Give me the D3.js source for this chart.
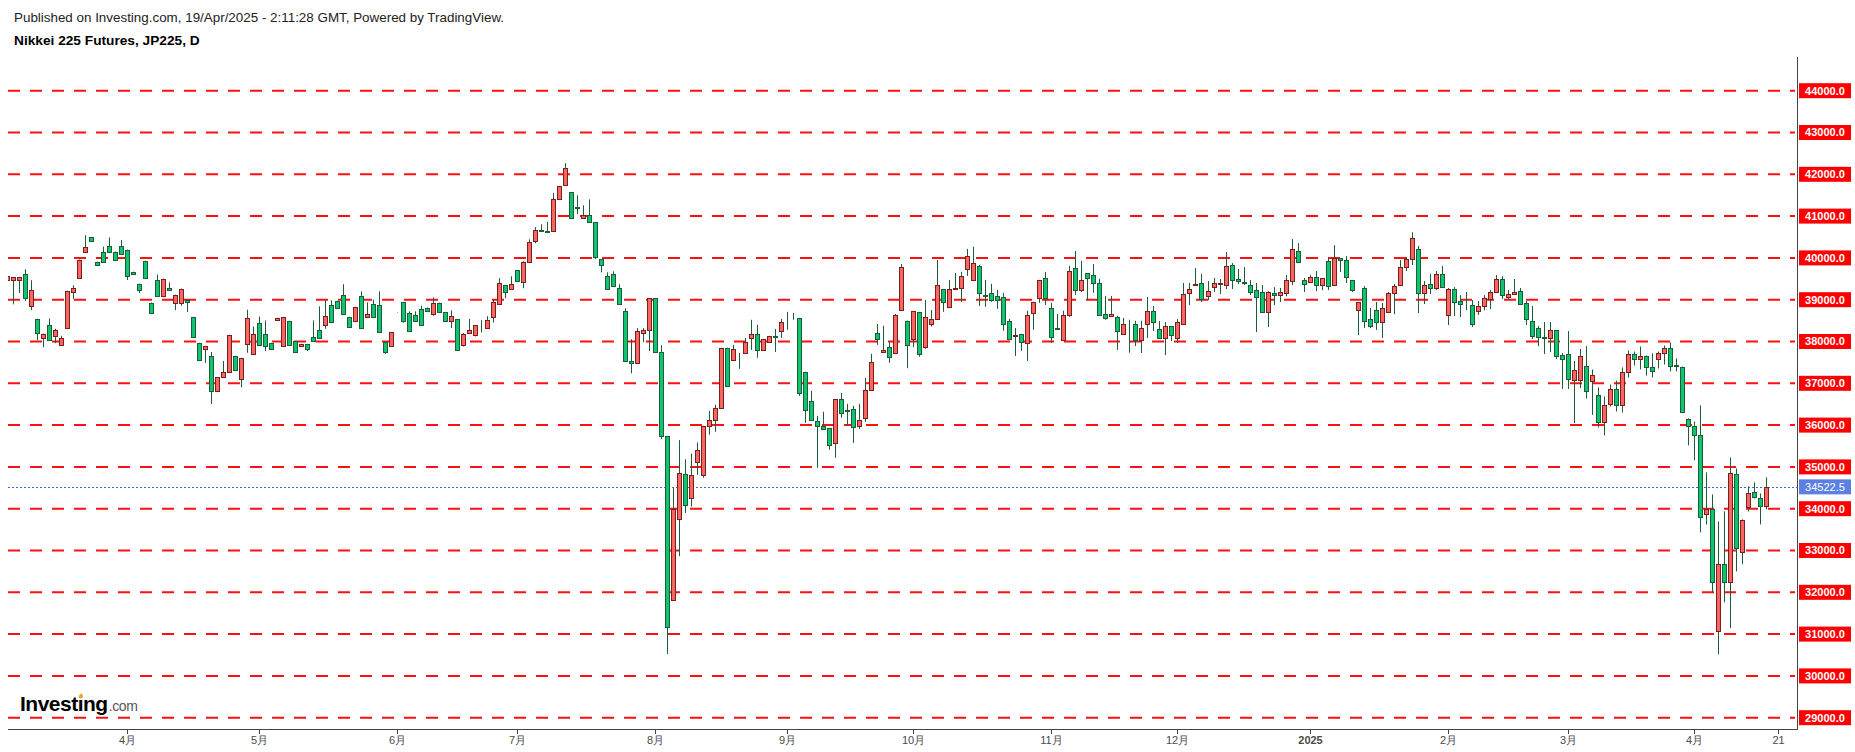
<!DOCTYPE html>
<html>
<head>
<meta charset="utf-8">
<script src="https://cdn.jsdelivr.net/npm/d3@7"></script>
<style>
    html, body { margin: 0; padding: 0; background: #fff; }
    svg { display: block; font-family: "Liberation Sans", Arial, sans-serif; }
</style>
</head>
<body>
<svg id="chart"></svg>
<script>
// Daily bars, one slot per weekday, first slot is 2024-03-04 (clipped at the left edge)
const opens = [
    39480, 39480, 39480, 39625, 38855, 38545, 38090, 38400, 38130, 37920,
    38330, 39190, 39530, 40150, 40490, 39910, 40130, 40295, 40150, 40295,
    40200, 39670, 39385, 39935, 38930, 39480, 39095, 39290, 38930, 38930,
    39000, 38590, 37970, 37825, 37655, 36815, 37150, 37270, 37655, 37105,
    37945, 37705, 38450, 38185, 37970, 38520, 37895, 38495, 38015, 37895,
    37945, 38110, 38280, 38400, 38880, 38975, 39120, 38590, 38495, 39095,
    38590, 38905, 38880, 37990, 37895, 38690, 38950, 38690, 38640, 38785,
    38810, 38665, 38930, 38710, 38495, 38535, 37910, 38200, 38150, 38420,
    38320, 38580, 38890, 39345, 39250, 39705, 39420, 39895, 40400, 40670,
    40645, 40635, 41400, 41735, 41570, 41220, 40950, 41020, 40850, 39970,
    39560, 39610, 39275, 38725, 37530, 37480, 38200, 38270, 39035, 37745,
    35735, 31815, 33750, 34835, 34250, 35120, 34810, 35985, 36125, 36415,
    37850, 37560, 37715, 37730, 38085, 38185, 37800, 37990, 38125, 38255,
    38470, 38555, 38565, 37275, 36580, 36105, 35985, 35935, 35575, 36630,
    36365, 36390, 35985, 36175, 36845, 38205, 37750, 37870, 37730, 38755,
    38495, 38065, 38710, 37870, 38420, 38540, 39260, 38830, 39260, 39285,
    39735, 39475, 39810, 39115, 39165, 39090, 39065, 38495, 38135, 38185,
    37970, 38685, 39045, 39520, 38805, 38320, 38040, 38635, 39760, 39235,
    39640, 39595, 39400, 38660, 38615, 38590, 38185, 38430, 38420, 38035,
    38420, 38730, 38300, 38085, 38370, 38085, 38420, 39160, 39360, 39400,
    39085, 39300, 39380, 39350, 39830, 39495, 39420, 39350, 39230, 39185,
    38705, 39160, 39110, 39160, 39445, 40165, 39470, 39420, 39540, 39350,
    39925, 39350, 40000, 39950, 39470, 38750, 39280, 38535, 38750, 38465,
    38705, 39160, 39350, 39780, 39970, 40210, 39160, 39375, 39280, 39615,
    38635, 39255, 38970, 38900, 38870, 38730, 38850, 39015, 39185, 39495,
    39065, 39135, 39205, 38920, 38490, 38320, 38105, 38085, 38275, 37675,
    37700, 37080, 37080, 37425, 37045, 36710, 36065, 36495, 36875, 36470,
    37260, 37690, 37570, 37665, 37380, 37570, 37715, 37855, 37430, 37400,
    36135, 35990, 35775, 33865, 33985, 31065, 32670, 32240, 34820, 32955,
    34030, 34390, 34245, 34055
];
const highs = [
    39580, 39545, 39545, 39730, 39465, 38545, 38190, 38550, 38305, 38135,
    39215, 39345, 39960, 40545, 40490, 39910, 40270, 40490, 40150, 40425,
    40200, 39670, 39385, 39935, 38930, 39600, 39505, 39415, 39120, 39265,
    39000, 38590, 37970, 37895, 37750, 37150, 37535, 38160, 37655, 37610,
    38760, 38360, 38600, 38505, 37970, 38570, 38590, 38495, 38015, 37945,
    37945, 38505, 38840, 38985, 38985, 38975, 39370, 38590, 38830, 39200,
    38935, 39000, 39200, 37990, 38230, 38695, 38950, 38720, 38720, 38855,
    38810, 39055, 38930, 38710, 38745, 38535, 38200, 38540, 38390, 38510,
    38605, 38995, 39515, 39345, 39560, 39705, 39920, 40445, 40735, 40805,
    40860, 41555, 41715, 42265, 41570, 41500, 41260, 41400, 40850, 39970,
    39655, 39680, 39370, 38795, 38055, 38320, 38320, 39035, 39035, 37910,
    35735, 34490, 35640, 35180, 35320, 35585, 35985, 36340, 36485, 37850,
    37850, 37920, 37730, 38085, 38520, 38400, 38065, 38135, 38300, 38540,
    38710, 38685, 38565, 37275, 36820, 36220, 36320, 35935, 36630, 36770,
    36510, 36460, 36510, 37130, 37705, 38420, 38375, 37990, 38660, 39855,
    38500, 38735, 38710, 38995, 38755, 39950, 39260, 39475, 39640, 39665,
    40215, 40270, 39835, 39475, 39380, 39235, 39165, 38540, 38325, 38185,
    38735, 38950, 39475, 39665, 38925, 38660, 38735, 39810, 40165, 39930,
    39640, 39855, 39500, 39090, 39090, 38615, 38565, 38520, 38495, 38495,
    39065, 38850, 38490, 38465, 38370, 38535, 39400, 39400, 39755, 39615,
    39445, 39520, 39495, 40140, 39875, 39735, 39780, 39470, 39400, 39350,
    39205, 39300, 39280, 39590, 40450, 40355, 39520, 39590, 39685, 39520,
    40000, 40305, 40000, 40045, 39470, 38945, 39325, 38800, 38945, 38920,
    39185, 39375, 39950, 40020, 40615, 40285, 39445, 39615, 39685, 39805,
    39280, 39300, 39110, 39185, 38990, 38970, 39110, 39230, 39590, 39565,
    39230, 39495, 39280, 38970, 38850, 38370, 38465, 38465, 38275, 37725,
    38250, 37535, 37820, 37890, 37330, 36900, 36685, 36970, 37065, 37380,
    37785, 37760, 37880, 37665, 37715, 37760, 37905, 37975, 37595, 37400,
    36160, 36085, 36470, 34870, 34340, 33695, 33935, 35225, 34965, 33745,
    34535, 34630, 34365, 34750
];
const lows = [
    39450, 38890, 39160, 38970, 38750, 38025, 37865, 38040, 37960, 37920,
    38330, 39015, 39530, 40150, 40415, 39840, 39910, 40150, 39960, 40105,
    39470, 39625, 39160, 39530, 38690, 39095, 39095, 39240, 38750, 38855,
    38705, 38110, 37560, 37490, 36505, 36815, 37150, 37270, 37320, 36905,
    37730, 37705, 37920, 37770, 37825, 38520, 37895, 37920, 37750, 37895,
    37770, 38015, 38090, 38305, 38470, 38810, 38665, 38350, 38495, 38330,
    38590, 38590, 38230, 37705, 37895, 38685, 38450, 38255, 38495, 38400,
    38735, 38615, 38710, 38495, 38320, 37770, 37880, 38200, 38120, 38215,
    38320, 38455, 38890, 39035, 39250, 39440, 39275, 39895, 40350, 40635,
    40615, 40635, 41400, 41735, 40950, 41045, 40950, 40850, 39970, 39655,
    39250, 39320, 38890, 37530, 37240, 37480, 37985, 37770, 37745, 35665,
    30525, 31815, 32865, 33900, 34050, 34810, 34740, 35770, 35840, 36415,
    36940, 37560, 37345, 37730, 37800, 37610, 37775, 37990, 37750, 38085,
    38280, 38520, 36700, 36055, 36125, 34980, 35910, 35410, 35220, 36175,
    35985, 35575, 35910, 36080, 36845, 37920, 37730, 37490, 37730, 38755,
    37360, 37865, 37635, 37825, 38360, 38540, 38710, 38830, 39235, 38950,
    39570, 39450, 38850, 38830, 38950, 38780, 38255, 38065, 37655, 37775,
    37535, 38280, 38925, 38875, 37970, 38280, 38015, 38590, 39115, 39185,
    38995, 39165, 38635, 38520, 38615, 37800, 38160, 37730, 37890, 37725,
    38085, 38250, 38060, 37675, 38010, 37965, 38395, 38870, 39325, 38945,
    38990, 39185, 39135, 39255, 39255, 39375, 39350, 39110, 38225, 38705,
    38345, 38870, 38945, 39085, 39350, 39900, 39185, 39420, 39205, 39230,
    39230, 39350, 39660, 39400, 39185, 38155, 38320, 38320, 38275, 38085,
    38705, 38655, 39350, 39685, 39830, 38680, 38895, 39135, 39230, 39300,
    38395, 38610, 38585, 38750, 38345, 38635, 38750, 38775, 39160, 39015,
    38990, 39135, 38895, 38395, 38060, 37890, 37700, 37750, 37580, 36865,
    36865, 36050, 36885, 36635, 36245, 35945, 35755, 36445, 36325, 36300,
    37140, 37425, 37330, 37185, 37140, 37355, 37450, 37285, 37285, 36325,
    35515, 35155, 33435, 33625, 32000, 30515, 31760, 31140, 32500, 32670,
    33935, 34245, 33625, 33985
];
const closes = [
    39560, 39535, 39535, 39050, 39240, 38210, 38190, 38040, 38280, 38090,
    39215, 39290, 39960, 40270, 40415, 39840, 39910, 40150, 39960, 40105,
    39575, 39625, 39240, 39530, 38690, 39095, 39505, 39240, 39120, 39265,
    38950, 38110, 37560, 37895, 36815, 37150, 37270, 38160, 37320, 37610,
    38570, 38185, 37920, 37895, 37825, 38570, 38590, 37920, 37750, 37945,
    37825, 38015, 38090, 38615, 38470, 38810, 38665, 38350, 38830, 38330,
    38665, 38590, 38230, 37750, 38230, 38690, 38495, 38255, 38495, 38400,
    38735, 38930, 38710, 38495, 38615, 37790, 38175, 38270, 38390, 38410,
    38510, 38940, 39395, 39180, 39370, 39440, 39895, 40375, 40660, 40655,
    40630, 41400, 41715, 42145, 40950, 41200, 41020, 40850, 40015, 39825,
    39250, 39320, 38890, 37530, 37480, 38245, 38270, 39035, 37745, 35735,
    31170, 33990, 34850, 34100, 34810, 35415, 35985, 36125, 36415, 37850,
    36940, 37825, 37730, 37990, 38185, 37800, 38065, 38135, 38110, 38470,
    38460, 38565, 36770, 36365, 36125, 35985, 35910, 35530, 36630, 36295,
    36340, 35960, 36125, 36845, 37515, 38065, 37800, 37635, 38635, 39785,
    37920, 38735, 37705, 38590, 38540, 39355, 38950, 39260, 39275, 39570,
    40050, 39880, 39165, 39090, 38995, 38995, 38420, 38065, 38145, 37990,
    38635, 38950, 39475, 39045, 38110, 38300, 38635, 39690, 39235, 39475,
    39520, 39400, 38635, 38565, 38660, 38255, 38420, 38415, 38035, 38320,
    38730, 38465, 38085, 38370, 38155, 38465, 39135, 39255, 39365, 39015,
    39205, 39400, 39390, 39805, 39470, 39445, 39405, 39185, 39065, 38705,
    39185, 39110, 39185, 39470, 40210, 39900, 39375, 39540, 39350, 39520,
    39325, 40000, 39950, 39540, 39230, 38945, 38490, 38370, 38465, 38800,
    39160, 39325, 39780, 39970, 40475, 39160, 39350, 39280, 39615, 39300,
    39255, 38945, 38895, 38890, 38420, 38850, 39040, 39185, 39495, 39110,
    39135, 39185, 38895, 38535, 38130, 38105, 38095, 38275, 37655, 37580,
    37105, 37320, 37655, 36805, 37210, 36065, 36470, 36875, 36470, 37260,
    37690, 37570, 37665, 37380, 37305, 37715, 37855, 37425, 37420, 36325,
    35990, 35775, 33790, 33985, 32240, 32670, 32240, 34845, 33050, 33720,
    34365, 34270, 34055, 34522.5
];

// Horizontal price levels drawn on the chart, and the last price
const priceLevels = [44000, 43000, 42000, 41000, 40000, 39000, 38000, 37000, 36000, 35000, 34000, 33000, 32000, 31000, 30000, 29000];
const lastPrice = 34522.5;

// Time axis ticks
const tickDates = ["2024-04-01", "2024-05-01", "2024-06-03", "2024-07-01", "2024-08-01", "2024-09-02", "2024-10-01", "2024-11-01", "2024-12-02", "2025-01-01", "2025-02-03", "2025-03-03", "2025-04-01", "2025-04-21"];
const tickLabels = ["4月", "5月", "6月", "7月", "8月", "9月", "10月", "11月", "12月", "2025", "2月", "3月", "4月", "21"];

const width = 1855;
const height = 752;
const plot = { left: 8, right: 1797, top: 57, bottom: 729 };

const upFill = "#f7675f", upStroke = "#7a1f1f";
const downFill = "#0fc46e", downStroke = "#1b5e37";
const wickColor = "#1b5e37";

// Weekday slots, including the two future slots shown on the axis
const fmt = d3.timeFormat("%Y-%m-%d");
const slots = d3.timeDay.range(new Date(2024, 2, 4), new Date(2025, 3, 22))
    .filter(d => d.getDay() !== 0 && d.getDay() !== 6)
    .map(fmt);

const bars = opens.map((o, i) => ({
    key: slots[i],
    open: o,
    high: highs[i],
    low: lows[i],
    close: closes[i]
}));

const x = d3.scalePoint()
    .domain(slots)
    .range([6.5, 6.5 + 6.005 * (slots.length - 1)]);

const y = d3.scaleLinear()
    .domain([29000, 44000])
    .range([717.7, 90.7]);

const svg = d3.select("#chart")
    .attr("width", width)
    .attr("height", height);

// Header
svg.append("text")
    .attr("x", 14)
    .attr("y", 21.5)
    .style("font-size", "13.4px")
    .style("fill", "#222")
    .text("Published on Investing.com, 19/Apr/2025 - 2:11:28 GMT, Powered by TradingView.");

svg.append("text")
    .attr("x", 14)
    .attr("y", 45)
    .style("font-size", "13.7px")
    .style("font-weight", "bold")
    .style("fill", "#000")
    .text("Nikkei 225 Futures, JP225, D");

svg.append("defs")
    .append("clipPath")
    .attr("id", "plot-clip")
    .append("rect")
    .attr("x", plot.left)
    .attr("y", plot.top)
    .attr("width", plot.right - plot.left)
    .attr("height", plot.bottom - plot.top);

const g = svg.append("g").attr("clip-path", "url(#plot-clip)");

// Red dashed level lines
g.selectAll(".level-line")
    .data(priceLevels)
    .enter()
    .append("line")
    .attr("class", "level-line")
    .attr("x1", plot.left)
    .attr("x2", plot.right - 2)
    .attr("y1", d => y(d))
    .attr("y2", d => y(d))
    .attr("stroke", "#ff1010")
    .attr("stroke-width", 2)
    .attr("stroke-dasharray", "12 10");

// Last price line
g.append("line")
    .attr("x1", plot.left)
    .attr("x2", plot.right)
    .attr("y1", Math.round(y(lastPrice)) + 0.5)
    .attr("y2", Math.round(y(lastPrice)) + 0.5)
    .attr("stroke", "#3d66de")
    .attr("stroke-width", 1)
    .attr("stroke-dasharray", "2 2");

// Candles
const candle = g.selectAll(".candle")
    .data(bars)
    .enter()
    .append("g")
    .attr("class", "candle");

candle.append("line")
    .attr("x1", d => Math.round(x(d.key)) + 0.5)
    .attr("x2", d => Math.round(x(d.key)) + 0.5)
    .attr("y1", d => y(d.high))
    .attr("y2", d => y(d.low))
    .attr("stroke", wickColor)
    .attr("stroke-width", 1);

candle.append("rect")
    .attr("x", d => Math.round(x(d.key)) - 1.5)
    .attr("y", d => Math.round(y(Math.max(d.open, d.close))) + 0.5)
    .attr("width", 4)
    .attr("height", d => Math.max(0, Math.round(y(Math.min(d.open, d.close))) - Math.round(y(Math.max(d.open, d.close)))))
    .attr("fill", d => d.close >= d.open ? upFill : downFill)
    .attr("stroke", d => d.close >= d.open ? upStroke : downStroke)
    .attr("stroke-width", 1);

// Axes lines
svg.append("line")
    .attr("x1", plot.right + 0.5)
    .attr("x2", plot.right + 0.5)
    .attr("y1", plot.top)
    .attr("y2", plot.bottom + 1)
    .attr("stroke", "#444");

svg.append("line")
    .attr("x1", plot.left)
    .attr("x2", plot.right + 1)
    .attr("y1", plot.bottom + 0.5)
    .attr("y2", plot.bottom + 0.5)
    .attr("stroke", "#444");

// Time axis ticks and labels
const ticks = svg.selectAll(".time-tick")
    .data(tickDates)
    .enter()
    .append("g")
    .attr("class", "time-tick")
    .attr("transform", d => `translate(${Math.round(x(d)) + 0.5},${plot.bottom})`);

ticks.append("line")
    .attr("y1", 1)
    .attr("y2", 5)
    .attr("stroke", "#444");

ticks.append("text")
    .attr("y", 15)
    .attr("text-anchor", "middle")
    .style("font-size", "11px")
    .style("font-weight", (d, i) => tickLabels[i] === "2025" ? "bold" : "normal")
    .style("fill", "#4a4a4a")
    .text((d, i) => tickLabels[i]);

// Price level labels on the right
const labels = svg.selectAll(".level-label")
    .data(priceLevels)
    .enter()
    .append("g")
    .attr("class", "level-label")
    .attr("transform", d => `translate(1799,${y(d)})`);

labels.append("rect")
    .attr("x", 0)
    .attr("y", -7.5)
    .attr("width", 52)
    .attr("height", 15)
    .attr("fill", "#ff0000");

labels.append("text")
    .attr("x", 26)
    .attr("dy", "0.36em")
    .attr("text-anchor", "middle")
    .style("font-size", "11px")
    .style("font-weight", "bold")
    .style("fill", "#fff")
    .text(d => d3.format(".1f")(d));

const lastLabel = svg.append("g")
    .attr("transform", `translate(1799,${y(lastPrice)})`);

lastLabel.append("rect")
    .attr("x", 0)
    .attr("y", -7.5)
    .attr("width", 52)
    .attr("height", 15)
    .attr("fill", "#5b7fe3");

lastLabel.append("text")
    .attr("x", 26)
    .attr("dy", "0.36em")
    .attr("text-anchor", "middle")
    .style("font-size", "11px")
    .style("fill", "#fff")
    .text(d3.format(".1f")(lastPrice));

// Investing.com logo
const logo = svg.append("text")
    .attr("x", 20)
    .attr("y", 711)
    .style("font-size", "21px")
    .style("font-weight", "bold")
    .style("letter-spacing", "-0.5px")
    .style("fill", "#000")
    .text("Investing");

const logoEnd = 20 + logo.node().getComputedTextLength();

svg.append("text")
    .attr("x", logoEnd + 1)
    .attr("y", 711)
    .style("font-size", "14px")
    .style("letter-spacing", "-0.4px")
    .style("fill", "#555")
    .text(".com");

const iBox = logo.node().getExtentOfChar(6);
svg.append("ellipse")
    .attr("cx", iBox.x + iBox.width / 2 + 0.5)
    .attr("cy", iBox.y + 4)
    .attr("rx", 1.8)
    .attr("ry", 2.6)
    .attr("transform", `rotate(25,${iBox.x + iBox.width / 2 + 0.5},${iBox.y + 4})`)
    .attr("fill", "#f5a623");
</script>
</body>
</html>
